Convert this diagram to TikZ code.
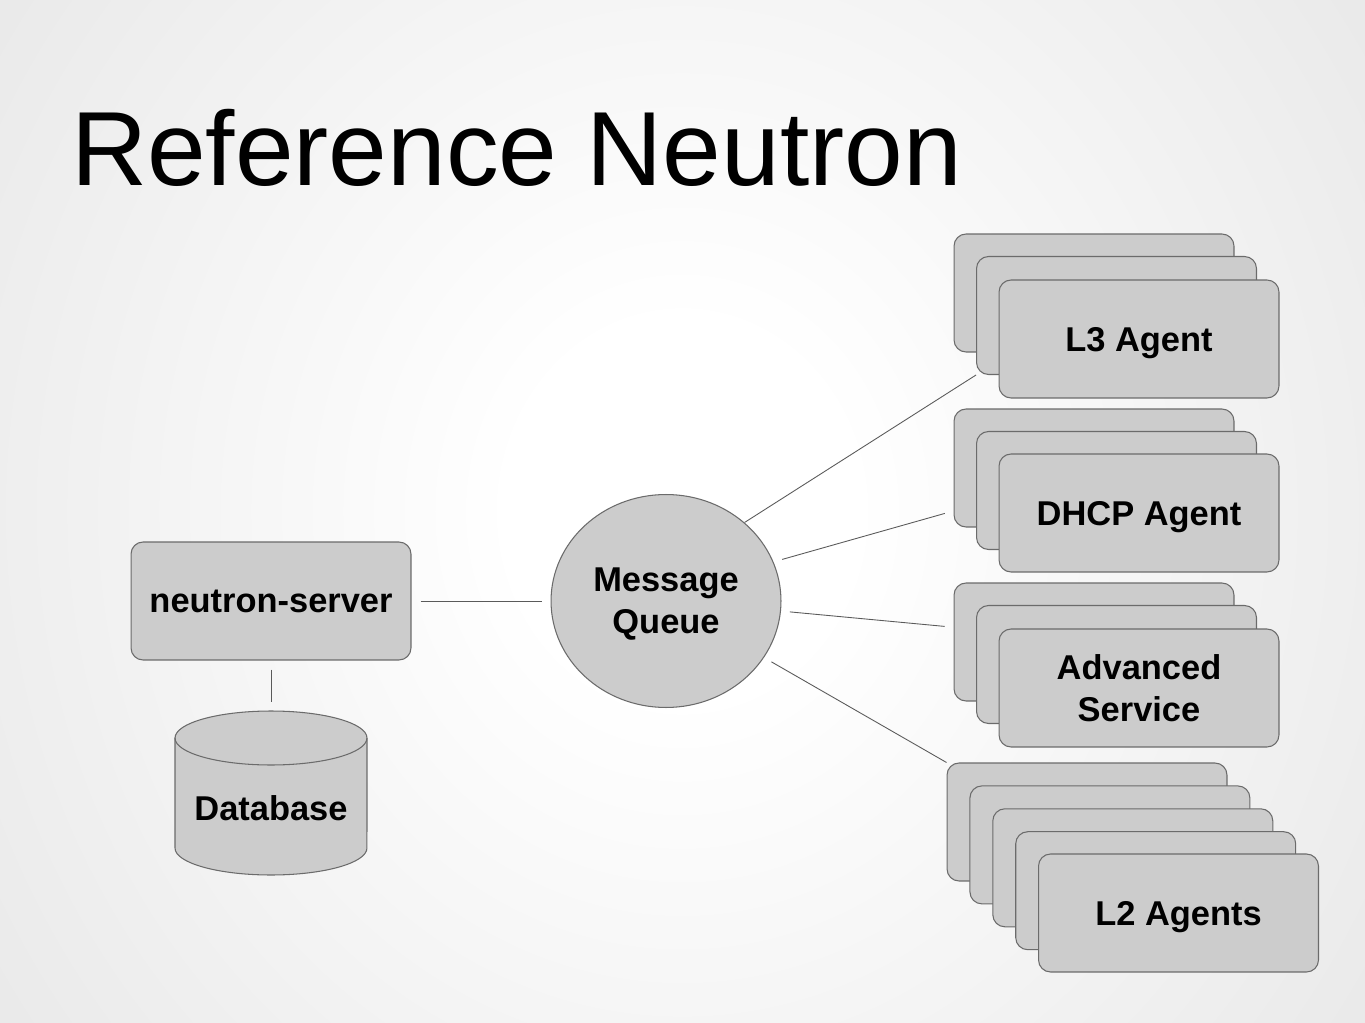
\documentclass[tikz,border=0pt]{standalone}
\usepackage{fontspec}
\setmainfont{Liberation Sans}
\usetikzlibrary{positioning,calc,shapes.geometric}
\definecolor{boxfill}{HTML}{CCCCCC}
\definecolor{boxline}{HTML}{6B6B6B}
\definecolor{linkcol}{HTML}{5A5A5A}
\definecolor{bgedge}{HTML}{CDCDCD}
\pgfdeclareradialshading{slidebg}{\pgfpoint{0bp}{0bp}}{color(0bp)=(white); color(5bp)=(white); color(50bp)=(bgedge); color(100bp)=(bgedge)}

\begin{document}
\begin{tikzpicture}[x=0.02cm, y=-0.02cm]
  \tikzset{
    lbl/.style={font=\fontsize{19.6pt}{23.9pt}\selectfont\bfseries, align=center, text depth=0pt},
    box/.style={lbl, draw=boxline, line width=0.6pt, fill=boxfill, rounded corners=0.24cm,
      minimum width=5.6cm, minimum height=2.36cm},
    link/.style={draw=linkcol, line width=0.5pt},
    gap/.style={shorten <=0.18cm, shorten >=0.18cm}
  }
  \useasboundingbox (0,0) rectangle (1365,1023);
  \clip (0,0) rectangle (1365,1023);
  \shade[shading=slidebg] (-170,-421) rectangle (1534,1443);

  \node[anchor=base west, font=\fontsize{60pt}{72pt}\selectfont] (title) at (65,186) {Reference Neutron};

  % server and database
  \node[box] (srv) at (271,601) {neutron-server};
  \draw[draw=boxline, line width=0.6pt, fill=boxfill]
    (175,738) -- (175,848) arc[start angle=180, end angle=360, x radius=1.92cm, y radius=0.54cm]
    -- (367,738) arc[start angle=0, end angle=180, x radius=1.92cm, y radius=0.54cm] -- cycle;
  \draw[draw=boxline, line width=0.6pt] (175,738) arc[start angle=180, end angle=360, x radius=1.92cm, y radius=0.54cm];
  \coordinate (dbtop) at (271,711);
  \node[lbl] (db) at (271,808) {Database};

  % message queue
  \node[lbl, ellipse, draw=boxline, line width=0.6pt, fill=boxfill, minimum width=4.6cm, minimum height=4.26cm, inner sep=0pt] (mq) at (666,601) {Message\\Queue};

  % agent stacks
  \foreach \i in {0,1}
    \node[box] (l3-\i) at (1094+22.5*\i, 293+22.5*\i) {};
  \node[box] (l3) at (1139,339) {L3 Agent};

  \foreach \i in {0,1}
    \node[box] (dhcp-\i) at (1094+22.5*\i, 468+22.5*\i) {};
  \node[box] (dhcp) at (1139,513) {DHCP Agent};

  \foreach \i in {0,1}
    \node[box] (adv-\i) at (1094+22.5*\i, 642+22.5*\i) {};
  \node[box] (adv) at (1139,688) {Advanced\\Service};

  \foreach \i in {0,...,3}
    \node[box] (l2-\i) at (1087+22.9*\i, 822+22.9*\i) {};
  \node[box] (l2) at (1178.5,913) {L2 Agents};

  % connectors
  \draw[link, gap] (srv) -- (mq);
  \draw[link, gap] (srv) -- (dbtop);
  \draw[link] (mq.45) -- (l3-1.south west);
  \draw[link, gap] (mq.20.6) -- (dhcp-0.197.4);
  \draw[link, gap] (mq.-5.6) -- (adv-0.174.2);
  \draw[link, shorten <=0.17cm] (mq.-30.4) -- (l2-0.north west);
\end{tikzpicture}
\end{document}
